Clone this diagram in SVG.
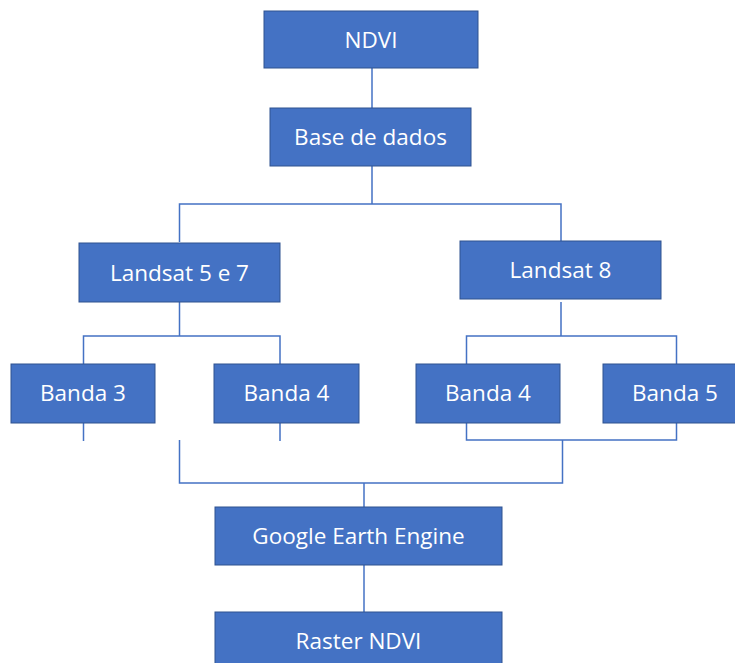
<svg xmlns="http://www.w3.org/2000/svg" width="735" height="663" viewBox="0 0 735 663">
<style>
.box{fill:#4472C4;stroke:#2F528F;stroke-width:1}
.lbl{fill:#ffffff;font-family:"Open Sans","Liberation Sans",sans-serif;font-size:22.5px;text-anchor:middle}
.ln{fill:none;stroke:#4472C4;stroke-width:1.5}
</style>
<rect width="735" height="663" fill="#ffffff"/>
<g id="connectors">
<path class="ln" d="M372 68V108"/>
<path class="ln" d="M372 166V204M179.5 242V204H561V241"/>
<path class="ln" d="M179.5 302V336M83.5 364V336H280V364"/>
<path class="ln" d="M561 302V336M466.5 364V336H676.5V364"/>
<path class="ln" d="M83.5 423V441M280 423V441"/>
<path class="ln" d="M466.5 423V440H676.5V423"/>
<path class="ln" d="M179.5 440V483H562.5V440"/>
<path class="ln" d="M364 483V507"/>
<path class="ln" d="M364 565V612"/>
</g>
<g id="ndvi"><rect class="box" x="264" y="11" width="214" height="57"/><text class="lbl" x="371" y="48">NDVI</text></g>
<g id="base"><rect class="box" x="270" y="108" width="201" height="58"/><text class="lbl" x="370.5" y="145">Base de dados</text></g>
<g id="landsat57"><rect class="box" x="79" y="243" width="201" height="59"/><text class="lbl" x="179.5" y="281">Landsat 5 e 7</text></g>
<g id="landsat8"><rect class="box" x="460" y="241" width="201" height="58"/><text class="lbl" x="560.5" y="278">Landsat 8</text></g>
<g id="banda3"><rect class="box" x="11" y="364" width="144" height="59"/><text class="lbl" x="83" y="401">Banda 3</text></g>
<g id="banda4a"><rect class="box" x="214" y="364" width="145" height="59"/><text class="lbl" x="286.5" y="401">Banda 4</text></g>
<g id="banda4b"><rect class="box" x="416" y="364" width="144" height="59"/><text class="lbl" x="488" y="401">Banda 4</text></g>
<g id="banda5"><rect class="box" x="603" y="364" width="145" height="59"/><text class="lbl" x="675" y="401">Banda 5</text></g>
<g id="gee"><rect class="box" x="215" y="507" width="287" height="58"/><text class="lbl" x="358.5" y="544">Google Earth Engine</text></g>
<g id="raster"><rect class="box" x="215" y="612" width="287" height="60"/><text class="lbl" x="358.5" y="649">Raster NDVI</text></g>
</svg>
